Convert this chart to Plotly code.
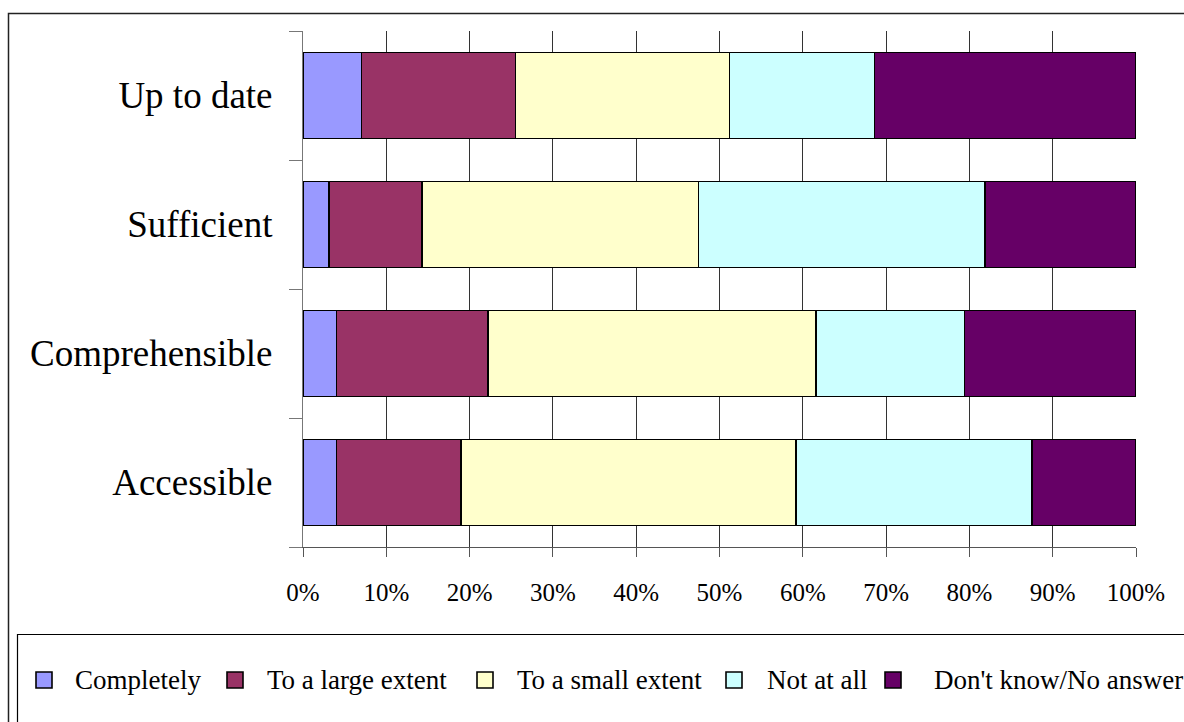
import plotly.graph_objects as go

# Survey results: share of answers per rating, by quality aspect (percent)
categories = ["Accessible", "Comprehensible", "Sufficient", "Up to date"]
series_names = ["Completely", "To a large extent", "To a small extent",
                "Not at all", "Don't know/No answer"]
completely = [4.0, 4.0, 3.1, 7.0]
large_extent = [15.0, 18.2, 11.2, 18.5]
small_extent = [40.2, 39.4, 33.2, 25.7]
not_at_all = [28.3, 17.8, 34.4, 17.4]
dont_know = [12.5, 20.6, 18.1, 31.4]
x_ticks = [0, 10, 20, 30, 40, 50, 60, 70, 80, 90, 100]
x_tick_labels = [f"{v}%" for v in x_ticks]

series_values = [completely, large_extent, small_extent, not_at_all, dont_know]
colors = ["#9999FF", "#993366", "#FFFFCC", "#CCFFFF", "#660066"]

W, H = 1184, 722
ML, MR, MT, MB = 303, 48, 31, 175
PW, PH = W - ML - MR, H - MT - MB

FONT = "Liberation Serif"


def px_x(px):
    return (px - ML) / PW


def px_y(py):
    return (H - MB - py) / PH


fig = go.Figure()
for name, vals, col in zip(series_names, series_values, colors):
    fig.add_trace(go.Bar(
        y=categories, x=vals, name=name, orientation="h",
        marker=dict(color=col, line=dict(color="#000000", width=1.6)),
        showlegend=False,
    ))

shapes = []
annotations = []

# outer chart frame and legend frame
shapes.append(dict(type="rect", xref="paper", yref="paper",
                   x0=px_x(8.5), x1=px_x(1300), y0=px_y(13.5), y1=px_y(800),
                   line=dict(color="#222222", width=1.5), fillcolor="rgba(0,0,0,0)",
                   layer="below"))
shapes.append(dict(type="rect", xref="paper", yref="paper",
                   x0=px_x(17.5), x1=px_x(1300), y0=px_y(634.5), y1=px_y(800),
                   line=dict(color="#000000", width=1.2), fillcolor="rgba(0,0,0,0)",
                   layer="below"))

# legend entries: swatch + label
swatch_left = [36, 227, 477, 726, 885]
text_left = [75, 267, 517, 767, 934]
legend_cy = 680
for name, col, sx, tx in zip(series_names, colors, swatch_left, text_left):
    shapes.append(dict(type="rect", xref="paper", yref="paper",
                       x0=px_x(sx), x1=px_x(sx + 16),
                       y0=px_y(legend_cy - 8), y1=px_y(legend_cy + 8),
                       fillcolor=col, line=dict(color="#000000", width=1.6)))
    annotations.append(dict(xref="paper", yref="paper", x=px_x(tx), y=px_y(legend_cy),
                            xanchor="left", yanchor="middle", showarrow=False,
                            borderpad=0, borderwidth=0,
                            text=name, font=dict(family=FONT, size=27, color="#000000")))

fig.update_layout(
    width=W, height=H,
    margin=dict(l=ML, r=MR, t=MT, b=MB, pad=0),
    paper_bgcolor="#FFFFFF", plot_bgcolor="#FFFFFF",
    barmode="stack", bargap=0.333,
    showlegend=False,
    font=dict(family=FONT, color="#000000"),
    shapes=shapes, annotations=annotations,
    xaxis=dict(
        range=[0, 100], tickmode="array", tickvals=x_ticks, ticktext=x_tick_labels,
        showgrid=True, gridcolor="#333333", gridwidth=1,
        zeroline=False,
        showline=True, linecolor="#555555", linewidth=1,
        ticks="outside", ticklen=9, tickcolor="#555555", tickwidth=1,
        tickfont=dict(family=FONT, size=25, color="#000000"),
        ticklabelstandoff=14,
    ),
    yaxis=dict(
        type="category", categoryorder="array", categoryarray=categories,
        range=[-0.5, 3.5],
        tickson="boundaries",
        showgrid=False, zeroline=False,
        showline=True, linecolor="#777777", linewidth=1.2,
        ticks="outside", ticklen=13, tickcolor="#777777", tickwidth=1.2,
        tickfont=dict(family=FONT, size=37, color="#000000"),
        ticklabelstandoff=22,
    ),
)

fig.write_html("out.html")
